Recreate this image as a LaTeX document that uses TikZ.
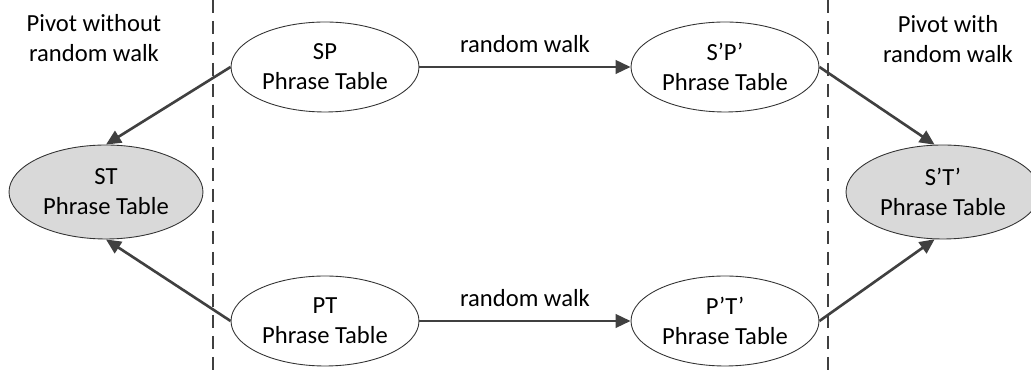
\documentclass[tikz,border=0pt]{standalone}
\usepackage{fontspec}
\setmainfont{Carlito}
\usetikzlibrary{arrows.meta,shapes.geometric}
\begin{document}
\begin{tikzpicture}[x=0.02cm,y=-0.02cm,
    every node/.style={font=\fontsize{14}{17}\selectfont, align=center},
    table/.style={ellipse, draw=black!80, line width=0.5pt, inner sep=0pt,
      minimum width=3.76cm, minimum height=1.8cm},
    result/.style={table, fill=gray!30, minimum width=3.88cm, minimum height=1.88cm},
    link/.style={draw=black!75, line width=1.5pt,
      -{Triangle[length=0.3cm,width=0.27cm]}},
    split/.style={draw=black!75, line width=1.3pt, dash pattern=on 0.26cm off 0.16cm}]
  \useasboundingbox (0,0) rectangle (1031,377);
  % dividers
  \coordinate (l1) at (213,0);
  \coordinate (l2) at (213,372);
  \coordinate (r1) at (828,0);
  \coordinate (r2) at (828,372);
  \draw[split] (l1) -- (l2);
  \draw[split] (r1) -- (r2);
  % tables
  \node[table] (sp) at (325,67) {SP\\Phrase Table};
  \node[table] (pt) at (325,321) {PT\\Phrase Table};
  \node[table] (spp) at (725,67) {S’P’\\Phrase Table};
  \node[table] (ptp) at (725,321) {P’T’\\Phrase Table};
  \node[result] (st) at (106,192) {ST\\Phrase Table};
  \node[result] (stp) at (943,192) {S’T’\\Phrase Table};
  % headings
  \node (without) at (94,38) {Pivot without\\random walk};
  \node (with) at (948,39) {Pivot with\\random walk};
  \begin{scope}[link]
    \draw (sp) -- node[above=4pt] (rw1) {random walk} (spp);
    \draw (pt) -- node[above=4pt] (rw2) {random walk} (ptp);
    \draw (sp.west) -- (st.north);
    \draw (pt.west) -- (st.south);
    \draw (spp.east) -- (stp.100);
    \draw (ptp.east) -- (stp.260);
  \end{scope}
\end{tikzpicture}
\end{document}
